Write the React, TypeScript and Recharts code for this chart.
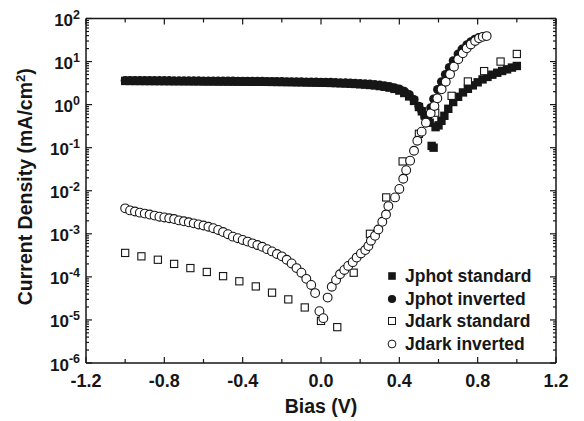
import { ScatterChart, Scatter, XAxis, YAxis, Legend } from "recharts";

const FONT = '"Liberation Sans", Arial, Helvetica, sans-serif';
const INK = "#161616";

// bias (V) tick marks; only every second one carries a label
const X_TICKS = [-1.2, -1.0, -0.8, -0.6, -0.4, -0.2, 0, 0.2, 0.4, 0.6, 0.8, 1.0, 1.2];
const X_LABELED = [-1.2, -0.8, -0.4, 0, 0.4, 0.8, 1.2];

// current density decades (mA/cm2)
const Y_DECADES = [1e-6, 1e-5, 1e-4, 1e-3, 1e-2, 1e-1, 1, 10, 100];
const Y_MINOR_STEPS = [2, 3, 4, 5, 6, 7, 8, 9];
const Y_TICKS = Y_DECADES.flatMap((d, i) =>
  i === Y_DECADES.length - 1 ? [d] : [d, ...Y_MINOR_STEPS.map((m) => d * m)]
);

// [bias V, |J| mA/cm2]
const jphotStandard: [number, number][] = [
  [-1.0, 3.55], [-0.975, 3.55], [-0.95, 3.54], [-0.925, 3.54], [-0.9, 3.53], [-0.875, 3.53],
  [-0.85, 3.52], [-0.825, 3.52], [-0.8, 3.51], [-0.775, 3.51], [-0.75, 3.5], [-0.725, 3.5],
  [-0.7, 3.49], [-0.675, 3.49], [-0.65, 3.48], [-0.625, 3.48], [-0.6, 3.47], [-0.575, 3.46],
  [-0.55, 3.46], [-0.525, 3.45], [-0.5, 3.45], [-0.475, 3.44], [-0.45, 3.43], [-0.425, 3.43],
  [-0.4, 3.42], [-0.375, 3.41], [-0.35, 3.4], [-0.325, 3.4], [-0.3, 3.39], [-0.275, 3.38],
  [-0.25, 3.37], [-0.225, 3.36], [-0.2, 3.35], [-0.175, 3.34], [-0.15, 3.33], [-0.125, 3.31],
  [-0.1, 3.3], [-0.075, 3.28], [-0.05, 3.27], [-0.025, 3.25], [0, 3.23], [0.025, 3.21],
  [0.05, 3.19], [0.075, 3.16], [0.1, 3.13], [0.125, 3.1], [0.15, 3.06], [0.175, 3.02],
  [0.2, 2.97], [0.225, 2.92], [0.25, 2.86], [0.275, 2.79], [0.3, 2.7], [0.325, 2.6],
  [0.35, 2.48], [0.375, 2.32], [0.4, 2.12], [0.425, 1.86], [0.45, 1.55], [0.475, 1.22],
  [0.5, 0.88], [0.515, 0.7], [0.53, 0.56], [0.545, 0.45], [0.555, 0.38], [0.565, 0.11],
  [0.575, 0.1], [0.585, 0.3], [0.6, 0.33], [0.615, 0.42], [0.63, 0.55], [0.65, 0.8],
  [0.675, 1.15], [0.7, 1.52], [0.725, 1.92], [0.75, 2.33], [0.775, 2.8], [0.8, 3.3],
  [0.825, 3.85], [0.85, 4.4], [0.875, 4.95], [0.9, 5.5], [0.925, 6.05], [0.95, 6.6],
  [0.975, 7.25], [1.0, 7.9],
];

const jphotInverted: [number, number][] = [
  [-1.0, 3.65], [-0.975, 3.65], [-0.95, 3.64], [-0.925, 3.64], [-0.9, 3.63], [-0.875, 3.63],
  [-0.85, 3.62], [-0.825, 3.62], [-0.8, 3.61], [-0.775, 3.61], [-0.75, 3.6], [-0.725, 3.6],
  [-0.7, 3.59], [-0.675, 3.58], [-0.65, 3.58], [-0.625, 3.57], [-0.6, 3.56], [-0.575, 3.56],
  [-0.55, 3.55], [-0.525, 3.54], [-0.5, 3.54], [-0.475, 3.53], [-0.45, 3.52], [-0.425, 3.51],
  [-0.4, 3.5], [-0.375, 3.5], [-0.35, 3.49], [-0.325, 3.48], [-0.3, 3.47], [-0.275, 3.46],
  [-0.25, 3.45], [-0.225, 3.44], [-0.2, 3.43], [-0.175, 3.42], [-0.15, 3.41], [-0.125, 3.4],
  [-0.1, 3.39], [-0.075, 3.37], [-0.05, 3.36], [-0.025, 3.35], [0, 3.33], [0.025, 3.31],
  [0.05, 3.29], [0.075, 3.27], [0.1, 3.24], [0.125, 3.21], [0.15, 3.18], [0.175, 3.14],
  [0.2, 3.1], [0.225, 3.06], [0.25, 3.01], [0.275, 2.94], [0.3, 2.86], [0.325, 2.76],
  [0.35, 2.63], [0.375, 2.48], [0.4, 2.3], [0.425, 2.05], [0.45, 1.72], [0.475, 1.32],
  [0.5, 0.92], [0.515, 0.7], [0.53, 0.52], [0.545, 0.46], [0.56, 0.85], [0.575, 1.35],
  [0.595, 2.25], [0.615, 3.4], [0.635, 5.0], [0.655, 7.3], [0.675, 10.5], [0.7, 15],
  [0.72, 19.5], [0.745, 24.5], [0.765, 29], [0.785, 33], [0.805, 36],
];

const jdarkStandard: [number, number][] = [
  [-1.0, 3.6e-4], [-0.917, 3.0e-4], [-0.833, 2.5e-4], [-0.75, 2.0e-4], [-0.667, 1.6e-4],
  [-0.583, 1.3e-4], [-0.5, 1.04e-4], [-0.417, 7.9e-5], [-0.333, 6.0e-5], [-0.25, 4.3e-5],
  [-0.167, 3.0e-5], [-0.083, 1.95e-5], [0, 9.5e-6], [0.083, 6.8e-6], [0.167, 1.25e-4],
  [0.25, 1.0e-3], [0.333, 7.0e-3], [0.417, 4.8e-2], [0.5, 0.21], [0.583, 0.65],
  [0.667, 1.6], [0.75, 3.45], [0.833, 6.0], [0.917, 10], [1.0, 15],
];

const jdarkInverted: [number, number][] = [
  [-1.0, 3.9e-3], [-0.975, 3.5e-3], [-0.95, 3.3e-3], [-0.925, 3.1e-3], [-0.9, 2.95e-3],
  [-0.875, 2.8e-3], [-0.85, 2.65e-3], [-0.825, 2.5e-3], [-0.8, 2.4e-3], [-0.775, 2.3e-3],
  [-0.75, 2.2e-3], [-0.725, 2.05e-3], [-0.7, 1.95e-3], [-0.675, 1.85e-3], [-0.65, 1.75e-3],
  [-0.625, 1.65e-3], [-0.6, 1.56e-3], [-0.575, 1.46e-3], [-0.55, 1.35e-3], [-0.525, 1.23e-3],
  [-0.5, 1.1e-3], [-0.475, 9.8e-4], [-0.45, 8.6e-4], [-0.425, 7.9e-4], [-0.4, 7.2e-4],
  [-0.375, 6.6e-4], [-0.35, 6.0e-4], [-0.325, 5.5e-4], [-0.3, 5.0e-4], [-0.275, 4.4e-4],
  [-0.25, 3.9e-4], [-0.225, 3.4e-4], [-0.2, 3.0e-4], [-0.175, 2.5e-4], [-0.15, 2.05e-4],
  [-0.125, 1.6e-4], [-0.1, 1.25e-4], [-0.075, 9.0e-5], [-0.05, 6.5e-5], [-0.03, 4.2e-5],
  [-0.008, 1.6e-5], [0.012, 1.1e-5], [0.034, 3.3e-5], [0.055, 5.9e-5], [0.077, 8.5e-5],
  [0.097, 1.15e-4], [0.119, 1.45e-4], [0.139, 1.8e-4], [0.162, 2.2e-4], [0.182, 2.8e-4],
  [0.204, 3.5e-4], [0.226, 4.2e-4], [0.242, 5.2e-4], [0.255, 6.9e-4], [0.276, 9.0e-4],
  [0.293, 1.26e-3], [0.313, 1.9e-3], [0.332, 2.8e-3], [0.344, 4.4e-3], [0.378, 7.0e-3],
  [0.4, 1.1e-2], [0.42, 1.9e-2], [0.435, 3.0e-2], [0.455, 5.0e-2], [0.475, 8.5e-2],
  [0.492, 0.145], [0.514, 0.235], [0.536, 0.38], [0.56, 0.63], [0.579, 0.93],
  [0.594, 1.4], [0.616, 2.27], [0.637, 3.4], [0.659, 5.1], [0.679, 7.6], [0.701, 11.3],
  [0.724, 15.5], [0.744, 20.3], [0.765, 25], [0.787, 30], [0.807, 34.7], [0.826, 37.5],
  [0.846, 39],
];

const toPoints = (rows: [number, number][]) => rows.map(([x, y]) => ({ x, y }));

const isDecade = (v: number) => Math.abs(Math.log10(v) - Math.round(Math.log10(v))) < 1e-6;

// marker shapes
const FilledSquare = (p: any) => <rect x={p.cx - 4.2} y={p.cy - 4.2} width={8.4} height={8.4} fill={INK} />;
const FilledCircle = (p: any) => <circle cx={p.cx} cy={p.cy} r={4.5} fill={INK} />;
const OpenSquare = (p: any) => (
  <rect x={p.cx - 3.6} y={p.cy - 3.6} width={7.2} height={7.2} fill="#fff" stroke={INK} strokeWidth={1.1} />
);
const OpenCircle = (p: any) => (
  <circle cx={p.cx} cy={p.cy} r={4.4} fill="#fff" stroke={INK} strokeWidth={1.1} />
);

function LeftTick(props: any) {
  const { x, y, payload } = props;
  const major = isDecade(payload.value);
  return (
    <g>
      <line x1={x} x2={x + (major ? 6 : 3)} y1={y} y2={y} stroke={INK} strokeWidth={1.2} />
      {major && (
        <text x={x - 6} y={y + 7.5} textAnchor="end" fontFamily={FONT} fontWeight="bold" fontSize={17} fill={INK}>
          10
          <tspan dy={-7.5} fontSize={12.5}>
            {Math.round(Math.log10(payload.value))}
          </tspan>
        </text>
      )}
    </g>
  );
}

function RightTick(props: any) {
  const { x, y, payload } = props;
  const major = isDecade(payload.value);
  return <line x1={x} x2={x - (major ? 6 : 3)} y1={y} y2={y} stroke={INK} strokeWidth={1.2} />;
}

function BottomTick(props: any) {
  const { x, y, payload } = props;
  const v = payload.value;
  const major = X_LABELED.some((t) => Math.abs(t - v) < 1e-9);
  return (
    <g>
      <line x1={x} x2={x} y1={y} y2={y - (major ? 6 : 4)} stroke={INK} strokeWidth={1.2} />
      {major && (
        <text x={x} y={y + 23.5} textAnchor="middle" fontFamily={FONT} fontWeight="bold" fontSize={18} fill={INK}>
          {v.toFixed(1)}
        </text>
      )}
    </g>
  );
}

function TopTick(props: any) {
  const { x, y, payload } = props;
  const major = X_LABELED.some((t) => Math.abs(t - payload.value) < 1e-9);
  return <line x1={x} x2={x} y1={y} y2={y + (major ? 6 : 4)} stroke={INK} strokeWidth={1.2} />;
}

function YTitle(props: any) {
  const vb = props.viewBox || { x: 0, y: 18, width: 86, height: 345 };
  const cx = vb.x + 32;
  const cy = vb.y + vb.height / 2 - 4;
  return (
    <text
      x={cx}
      y={cy}
      transform={`rotate(-90 ${cx} ${cy})`}
      textAnchor="middle"
      fontFamily={FONT}
      fontWeight="bold"
      fontSize={19.5}
      fill={INK}
    >
      Current Density (mA/cm
      <tspan dy={-7} fontSize={13}>2</tspan>
      <tspan dy={7}>)</tspan>
    </text>
  );
}

function XTitle(props: any) {
  const vb = props.viewBox || { x: 86, y: 363, width: 470, height: 58 };
  return (
    <text
      x={vb.x + vb.width / 2}
      y={vb.y + 50}
      textAnchor="middle"
      fontFamily={FONT}
      fontWeight="bold"
      fontSize={19.5}
      fill={INK}
    >
      Bias (V)
    </text>
  );
}

const LEGEND_ROWS = [
  { name: "Jphot standard", kind: "fsq" },
  { name: "Jphot inverted", kind: "fci" },
  { name: "Jdark standard", kind: "osq" },
  { name: "Jdark inverted", kind: "oci" },
];

function LegendBox() {
  return (
    <div style={{ fontFamily: FONT, fontWeight: "bold", fontSize: 17.5, color: INK, lineHeight: "22.5px" }}>
      {LEGEND_ROWS.map((r) => (
        <div key={r.name} style={{ display: "flex", alignItems: "center", height: 22.5 }}>
          <svg width={12} height={12} style={{ marginRight: 7, flexShrink: 0 }}>
            {r.kind === "fsq" && <rect x={2.2} y={2.2} width={7.6} height={7.6} fill={INK} />}
            {r.kind === "fci" && <circle cx={6} cy={6} r={4.1} fill={INK} />}
            {r.kind === "osq" && <rect x={2.5} y={2.5} width={7} height={7} fill="#fff" stroke={INK} strokeWidth={1} />}
            {r.kind === "oci" && <circle cx={6} cy={6} r={3.9} fill="#fff" stroke={INK} strokeWidth={1} />}
          </svg>
          <span>{r.name}</span>
        </div>
      ))}
    </div>
  );
}

export default function App() {
  return (
    <div style={{ position: "absolute", left: 0, top: 0, background: "#fff" }}>
      <ScatterChart width={584} height={421} margin={{ top: 17.5, right: 27, bottom: 0, left: 0 }}>
        <XAxis
          xAxisId="bottom"
          dataKey="x"
          type="number"
          domain={[-1.2, 1.2]}
          ticks={X_TICKS}
          interval={0}
          allowDataOverflow
          height={58}
          tickSize={0}
          tickMargin={0}
          tickLine={false}
          tick={BottomTick}
          axisLine={{ stroke: INK, strokeWidth: 1.5 }}
          label={<XTitle />}
        />
        <XAxis
          xAxisId="top"
          orientation="top"
          dataKey="x"
          type="number"
          domain={[-1.2, 1.2]}
          ticks={X_TICKS}
          interval={0}
          allowDataOverflow
          height={1}
          tickSize={0}
          tickMargin={0}
          tickLine={false}
          tick={TopTick}
          axisLine={{ stroke: INK, strokeWidth: 1.5 }}
        />
        <YAxis
          yAxisId="left"
          dataKey="y"
          type="number"
          scale="log"
          domain={[1e-6, 100]}
          ticks={Y_TICKS}
          interval={0}
          allowDataOverflow
          width={86}
          tickSize={0}
          tickMargin={0}
          tickLine={false}
          tick={LeftTick}
          axisLine={{ stroke: INK, strokeWidth: 1.5 }}
          label={<YTitle />}
        />
        <YAxis
          yAxisId="right"
          orientation="right"
          dataKey="y"
          type="number"
          scale="log"
          domain={[1e-6, 100]}
          ticks={Y_TICKS}
          interval={0}
          allowDataOverflow
          width={1}
          tickSize={0}
          tickMargin={0}
          tickLine={false}
          tick={RightTick}
          axisLine={{ stroke: INK, strokeWidth: 1.5 }}
        />
        <Legend
          layout="vertical"
          align="center"
          verticalAlign="middle"
          content={LegendBox}
          wrapperStyle={{ position: "absolute", left: 386, top: 265, width: 190 }}
        />
        <Scatter
          name="Jphot standard"
          xAxisId="bottom"
          yAxisId="left"
          data={toPoints(jphotStandard)}
          shape={FilledSquare}
          isAnimationActive={false}
        />
        <Scatter
          name="Jphot inverted"
          xAxisId="bottom"
          yAxisId="left"
          data={toPoints(jphotInverted)}
          shape={FilledCircle}
          isAnimationActive={false}
        />
        <Scatter
          name="Jdark standard"
          xAxisId="bottom"
          yAxisId="left"
          data={toPoints(jdarkStandard)}
          shape={OpenSquare}
          isAnimationActive={false}
        />
        <Scatter
          name="Jdark inverted"
          xAxisId="bottom"
          yAxisId="left"
          data={toPoints(jdarkInverted)}
          shape={OpenCircle}
          isAnimationActive={false}
        />
      </ScatterChart>
    </div>
  );
}
